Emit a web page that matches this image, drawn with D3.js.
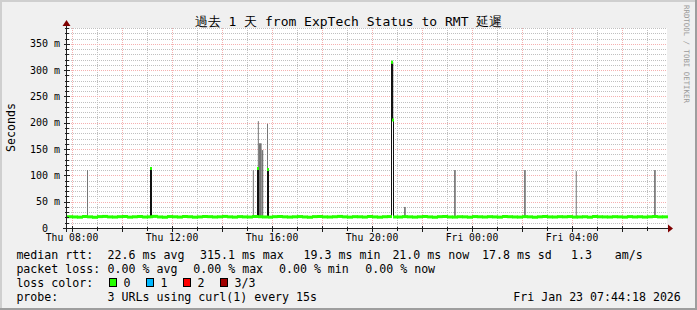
<!DOCTYPE html>
<html>
<head>
<meta charset="utf-8">
<script src="https://cdn.jsdelivr.net/npm/d3@7"></script>
<style>
  body { margin: 0; background: #fff; }
  text { font-family: "DejaVu Sans Mono", monospace; }
</style>
</head>
<body>
<div id="chart"></div>
<script>
// ---- data ----
const title = "過去 1 天 from ExpTech Status to RMT 延遲";
const yTicks = [0, 50, 100, 150, 200, 250, 300, 350];

// median rtt (ms), one value every 12 minutes from Thu 07:48
const medianBase = [
  21.4,21.0,20.6,21.8,21.2,20.4,21.6,22.0,21.1,20.8,
  21.5,21.9,20.7,21.3,21.8,20.9,21.2,22.1,21.0,20.5,
  21.7,21.3,20.8,21.9,21.4,20.6,21.1,21.8,21.5,20.9,
  21.3,22.0,21.2,20.7,21.6,21.1,20.9,21.8,21.4,21.0,
  20.6,21.5,21.9,21.2,20.8,21.3,21.7,21.0,20.5,21.6,
  21.8,21.1,20.9,21.4,22.0,21.2,20.7,21.5,21.3,20.8,
  21.9,21.1,20.6,21.4,21.7,21.0,20.9,21.6,21.2,20.7,
  21.3,21.8,21.1,20.5,21.5,21.9,21.0,20.8,21.4,21.2,
  20.6,21.7,21.3,20.9,21.5,21.1,20.7,21.8,21.4,21.0,
  20.8,21.6,21.2,20.5,21.3,21.9,21.1,20.9,21.5,21.2,
  21.7,20.8,21.0,21.4,20.6,21.8,21.3,21.1,20.9,21.5,
  21.2,20.7,21.6,21.0,21.4,20.8,21.3,21.9,21.1,21.2
];

// median excursions
const medStart = ["Thu 11:08", "Thu 15:24", "Thu 15:47", "Thu 20:46", "Thu 20:49"];
const medEnd   = ["Thu 11:10", "Thu 15:26", "Thu 15:50", "Thu 20:49", "Thu 20:51"];
const medValue = [113, 113, 111, 315, 205];

// light smoke spikes (max ping)
const smokeStart = ["Thu 08:36","Thu 15:14","Thu 15:26","Thu 15:28","Thu 15:35","Thu 15:48","Thu 21:17","Thu 23:17","Fri 02:05","Fri 04:09","Fri 07:17"];
const smokeEnd   = ["Thu 08:38","Thu 15:16","Thu 15:28","Thu 15:35","Thu 15:39","Thu 15:50","Thu 21:21","Thu 23:21","Fri 02:09","Fri 04:11","Fri 07:21"];
const smokeTop   = [110, 110, 203, 161, 148, 198, 40, 110, 110, 108, 110];

// dark smoke
const darkStart = ["Thu 20:46"];
const darkEnd   = ["Thu 20:51"];
const darkLow   = [205];
const darkHigh  = [315];

const rttLabel = "median rtt:";
const rttStats = ["22.6 ms avg", "315.1 ms max", "19.3 ms min", "21.0 ms now", "17.8 ms sd", "1.3", "am/s"];
const lossLabel = "packet loss:";
const lossStats = ["0.00 % avg", "0.00 % max", "0.00 % min", "0.00 % now"];
const lossColorLabel = "loss color:";
const lossNames = ["0", "1", "2", "3/3"];
const lossColors = ["#26ff00", "#00b8ff", "#ff0000", "#a00000"];
const probeLabel = "probe:";
const probeText = "3 URLs using curl(1) every 15s";
const stamp = "Fri Jan 23 07:44:18 2026";

// ---- layout ----
const width = 697, height = 310;
const pLeft = 67, pRight = 667, pTop = 28, pBottom = 228;

const t0 = new Date(2026, 0, 22, 7, 48, 0);
const t1 = new Date(2026, 0, 23, 7, 48, 0);
const step = 12 * 60 * 1000;

function when(s) {
  var p = s.split(" "), hm = p[1].split(":");
  return new Date(2026, 0, p[0] == "Thu" ? 22 : 23, +hm[0], +hm[1], 0);
}

const x = d3.scaleTime().domain([t0, t1]).range([pLeft, pRight]);
const y = d3.scaleLinear().domain([0, 380]).range([pBottom, pTop]);

const svg = d3.select("#chart")
  .append("svg")
    .attr("width", width)
    .attr("height", height);

// background + shade frame
svg.append("rect").attr("width", width).attr("height", height).attr("fill", "#f0f0f0");
svg.append("path").attr("d", "M0,0H697V2H2V310H0Z").attr("fill", "#cfcfcf");
svg.append("path").attr("d", "M697,0V310H0V308H695V0Z").attr("fill", "#9e9e9e");

svg.append("rect")
  .attr("x", pLeft).attr("y", pTop)
  .attr("width", pRight - pLeft).attr("height", pBottom - pTop)
  .attr("fill", "#ffffff");

// grid
const g = svg.append("g");
d3.range(0, 381, 10).filter(v => v % 50 != 0).forEach(function(v) {
  g.append("line").attr("x1", pLeft).attr("x2", pRight).attr("y1", Math.round(y(v)) + 0.5).attr("y2", Math.round(y(v)) + 0.5)
    .attr("stroke", "#c0c0c0").attr("stroke-dasharray", "1,1");
});
d3.timeHour.every(1).range(t0, t1).forEach(function(d) {
  if (d.getHours() % 2 == 0) return;
  g.append("line").attr("x1", Math.round(x(d)) + 0.5).attr("x2", Math.round(x(d)) + 0.5).attr("y1", pTop).attr("y2", pBottom)
    .attr("stroke", "#c0c0c0").attr("stroke-dasharray", "1,1");
});
yTicks.slice(1).forEach(function(v) {
  g.append("line").attr("x1", pLeft).attr("x2", pRight).attr("y1", Math.round(y(v)) + 0.5).attr("y2", Math.round(y(v)) + 0.5)
    .attr("stroke", "#f5b0b0").attr("stroke-dasharray", "1,1");
});
d3.timeHour.every(2).range(t0, t1).forEach(function(d) {
  g.append("line").attr("x1", Math.round(x(d)) + 0.5).attr("x2", Math.round(x(d)) + 0.5).attr("y1", pTop).attr("y2", pBottom)
    .attr("stroke", "#f5b0b0").attr("stroke-dasharray", "1,1");
});

// smoke
svg.append("g").selectAll("rect")
  .data(smokeTop)
  .enter().append("rect")
    .attr("x", (d, i) => x(when(smokeStart[i])))
    .attr("width", (d, i) => Math.max(1, x(when(smokeEnd[i])) - x(when(smokeStart[i]))))
    .attr("y", d => y(d))
    .attr("height", d => y(19) - y(d))
    .attr("fill", "#767676");

svg.append("g").selectAll("rect")
  .data(darkHigh)
  .enter().append("rect")
    .attr("x", (d, i) => x(when(darkStart[i])))
    .attr("width", (d, i) => x(when(darkEnd[i])) - x(when(darkStart[i])))
    .attr("y", d => y(d))
    .attr("height", (d, i) => y(darkLow[i]) - y(d))
    .attr("fill", "#2a2a2a");

// median steps: base samples with the excursions laid over them
var cuts = medianBase.map((v, i) => +t0 + i * step).concat([+t1]);
medStart.forEach(function(s, i) { cuts.push(+when(s), +when(medEnd[i])); });
cuts = Array.from(new Set(cuts)).sort((a, b) => a - b);

var segs = [];
for (var k = 0; k < cuts.length - 1; k++) {
  var a = cuts[k], b = cuts[k + 1];
  var v = medianBase[Math.min(medianBase.length - 1, Math.floor((a - t0) / step))];
  medStart.forEach(function(s, i) {
    if (a >= +when(s) && b <= +when(medEnd[i])) v = medValue[i];
  });
  segs.push({ a: a, b: b, v: v });
}

var pts = segs.map(s => [s.a, s.v]).concat([[+t1, segs[segs.length - 1].v]]);
svg.append("path")
  .attr("d", d3.line().curve(d3.curveStepAfter).x(d => Math.round(x(d[0])) + 0.5).y(d => y(d[1]))(pts))
  .attr("fill", "none")
  .attr("stroke", "#111")
  .attr("stroke-width", 1);

svg.append("g").selectAll("line")
  .data(segs)
  .enter().append("line")
    .attr("x1", d => Math.round(x(d.a)))
    .attr("x2", d => Math.round(x(d.b)) + 1)
    .attr("y1", d => y(d.v))
    .attr("y2", d => y(d.v))
    .attr("stroke", lossColors[0])
    .attr("stroke-width", 3);

// axes
svg.append("line").attr("x1", 63).attr("x2", pRight + 2).attr("y1", pBottom + 0.5).attr("y2", pBottom + 0.5).attr("stroke", "#202020");
svg.append("line").attr("x1", pLeft - 0.5).attr("x2", pLeft - 0.5).attr("y1", pBottom + 4).attr("y2", pTop - 3).attr("stroke", "#202020");
svg.append("path").attr("d", "M668,224.5L673,228.5L668,232.5Z").attr("fill", "#7f0000");
svg.append("path").attr("d", "M62.5,26L66.5,20L70.5,26Z").attr("fill", "#7f0000");

d3.range(0, 381, 10).forEach(function(v) {
  var yy = Math.round(y(v)) + 0.5, big = v % 50 == 0;
  svg.append("line").attr("x1", big ? 64 : 65).attr("x2", big ? 70 : 69).attr("y1", yy).attr("y2", yy).attr("stroke", "#202020");
});
d3.timeHour.every(1).range(t0, t1).forEach(function(d) {
  var xx = Math.round(x(d)) + 0.5, big = d.getHours() % 2 == 0;
  svg.append("line").attr("x1", xx).attr("x2", xx).attr("y1", big ? 226 : 227).attr("y2", big ? 232 : 231).attr("stroke", "#202020");
});

// axis labels
svg.append("g").selectAll("text")
  .data(yTicks)
  .enter().append("text")
    .attr("x", 48)
    .attr("y", d => y(d) + 3.5)
    .attr("text-anchor", "end")
    .attr("font-size", "10px")
    .text(d => d);
svg.append("g").selectAll("text")
  .data(yTicks.slice(1))
  .enter().append("text")
    .attr("x", 54)
    .attr("y", d => y(d) + 3.5)
    .attr("font-size", "10px")
    .text("m");

svg.append("g").selectAll("text")
  .data(d3.timeHour.every(4).range(new Date(2026, 0, 22, 8), t1))
  .enter().append("text")
    .attr("x", d => x(d))
    .attr("y", 241)
    .attr("text-anchor", "middle")
    .attr("font-size", "9.7px")
    .text(d => d3.timeFormat("%a %H:%M")(d));

svg.append("text")
  .attr("transform", "translate(14.5,127.5) rotate(-90)")
  .attr("text-anchor", "middle")
  .attr("font-size", "11.6px")
  .text("Seconds");

svg.append("text")
  .attr("x", 348.5).attr("y", 26)
  .attr("text-anchor", "middle")
  .attr("font-size", "13px")
  .text(title);

svg.append("text")
  .attr("transform", "translate(684,5) rotate(90)")
  .attr("font-size", "7.4px")
  .attr("fill", "#9a9a9a")
  .text("RRDTOOL / TOBI OETIKER");

// legend
const lg = svg.append("g").attr("font-size", "11.6px");
function put(xx, yy, s) { lg.append("text").attr("x", xx).attr("y", yy).attr("xml:space", "preserve").text(s); }

put(16.4, 259, rttLabel);
[107.6, 200, 303.6, 392.4, 482, 571, 614.7].forEach((xx, i) => put(xx, 259, rttStats[i]));
put(16.4, 273, lossLabel);
[107.6, 193.3, 279, 365.3].forEach((xx, i) => put(xx, 273, lossStats[i]));
put(16.4, 287, lossColorLabel);
[109, 146, 183, 220].forEach(function(xx, i) {
  lg.append("rect").attr("x", xx + 0.5).attr("y", 278.5).attr("width", 7).attr("height", 8)
    .attr("fill", lossColors[i]).attr("stroke", "#000");
  put(xx + 14.6, 287, lossNames[i]);
});
put(16.4, 301, probeLabel);
put(107.6, 301, probeText);
put(513.3, 301, stamp);
</script>
</body>
</html>
